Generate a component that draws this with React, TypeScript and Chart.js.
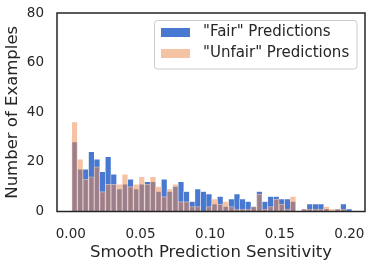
import React, { useEffect, useRef } from "react";
import { Chart, registerables } from "chart.js";

Chart.register(...registerables);

// ---- data ----
const binStart = 0.0007;
const binWidth = 0.00402;
const fairCounts = [
  28, 17, 17, 24, 21, 16, 22, 15, 9, 11,
  13, 9, 11, 12, 12, 8, 13, 8, 10, 12,
  8, 4, 9, 8, 7, 3, 6, 2, 5, 7,
  5, 4, 2, 8, 4, 6, 6, 5, 5, 4,
  0, 1, 3, 3, 3, 1, 0, 1, 3, 1,
];
const unfairCounts = [
  36, 21, 13, 14, 18, 8, 11, 11, 11, 15,
  10, 11, 14, 11, 14, 10, 6, 9, 11, 4,
  4, 2, 2, 0, 2, 5, 3, 4, 2, 1,
  1, 1, 2, 7, 1, 2, 5, 3, 1, 6,
  0, 1, 1, 1, 1, 2, 1, 1, 1, 0,
];
const xTickValues = [0, 0.05, 0.1, 0.15, 0.2];
const yTickValues = [0, 20, 40, 60, 80];
const seriesLabels = ['"Fair" Predictions', '"Unfair" Predictions'];
const xTitle = "Smooth Prediction Sensitivity";
const yTitle = "Number of Examples";

const FONT = "'DejaVu Sans', sans-serif";
const TEXT = "#262626";
const BLUE = "rgb(72,120,208)";
const ORANGE_A = "rgba(238,133,74,0.5)";

const framePlugin = {
  id: "frame",
  afterDraw(chart: any) {
    const { ctx, chartArea: a } = chart;
    ctx.save();
    ctx.strokeStyle = TEXT;
    ctx.lineWidth = 1.5;
    ctx.strokeRect(a.left, a.top, a.right - a.left, a.bottom - a.top);
    ctx.restore();
  },
};

const legendPlugin = {
  id: "innerLegend",
  afterDraw(chart: any) {
    const { ctx, chartArea: a } = chart;
    const right = a.right - 8;
    const left = right - 202.5;
    const top = a.top + 7.5;
    const h = 48.5;
    ctx.save();
    ctx.beginPath();
    const r = 3;
    ctx.moveTo(left + r, top);
    ctx.lineTo(right - r, top);
    ctx.quadraticCurveTo(right, top, right, top + r);
    ctx.lineTo(right, top + h - r);
    ctx.quadraticCurveTo(right, top + h, right - r, top + h);
    ctx.lineTo(left + r, top + h);
    ctx.quadraticCurveTo(left, top + h, left, top + h - r);
    ctx.lineTo(left, top + r);
    ctx.quadraticCurveTo(left, top, left + r, top);
    ctx.closePath();
    ctx.fillStyle = "rgba(255,255,255,0.8)";
    ctx.fill();
    ctx.strokeStyle = "#cccccc";
    ctx.lineWidth = 1;
    ctx.stroke();
    const colors = [BLUE, ORANGE_A];
    const rows = [top + 12, top + 33];
    ctx.font = `15px ${FONT}`;
    ctx.textBaseline = "middle";
    ctx.textAlign = "left";
    seriesLabels.forEach((lab, i) => {
      ctx.fillStyle = colors[i];
      ctx.fillRect(left + 6.5, rows[i] - 4.5, 29, 9);
      ctx.fillStyle = TEXT;
      ctx.fillText(lab, left + 48.5, rows[i]);
    });
    ctx.restore();
  },
};

export default function App() {
  const ref = useRef<HTMLCanvasElement | null>(null);
  useEffect(() => {
    document.body.style.margin = "0";
    const centers = fairCounts.map((_, i) => binStart + (i + 0.5) * binWidth);
    const chart = new Chart(ref.current as HTMLCanvasElement, {
      type: "bar",
      data: {
        datasets: [
          {
            label: seriesLabels[0],
            data: centers.map((x, i) => ({ x, y: fairCounts[i] })),
            backgroundColor: BLUE,
            borderColor: "rgba(255,255,255,1)",
            borderWidth: 0.5,
            order: 1,
          },
          {
            label: seriesLabels[1],
            data: centers.map((x, i) => ({ x, y: unfairCounts[i] })),
            backgroundColor: ORANGE_A,
            borderColor: "rgba(255,255,255,0.5)",
            borderWidth: 0.5,
            order: 0,
          },
        ],
      },
      options: {
        animation: false,
        responsive: true,
        maintainAspectRatio: false,
        layout: { padding: { left: 0, right: 9, top: 13, bottom: 0 } },
        datasets: {
          bar: {
            grouped: false,
            barPercentage: 1,
            categoryPercentage: 1,
          },
        } as any,
        plugins: {
          legend: { display: false },
          tooltip: { enabled: false },
        },
        scales: {
          x: {
            type: "linear",
            offset: false,
            min: -0.0099,
            max: 0.2112,
            grid: { display: false, drawTicks: false },
            border: { display: false },
            afterBuildTicks: (s: any) => {
              s.ticks = xTickValues.map((v) => ({ value: v }));
            },
            afterFit: (s: any) => {
              s.height = 53.5;
              s.paddingLeft = 0;
              s.paddingRight = 0;
            },
            ticks: {
              color: TEXT,
              font: { family: FONT, size: 13.5 },
              padding: 15,
              maxRotation: 0,
              callback: (v: any) => Number(v).toFixed(2),
            },
            title: {
              display: true,
              text: xTitle,
              color: TEXT,
              font: { family: FONT, size: 16.5 },
              padding: { top: 0, bottom: 2 },
            },
          },
          y: {
            min: 0,
            max: 80,
            grid: { display: false, drawTicks: false },
            border: { display: false },
            afterBuildTicks: (s: any) => {
              s.ticks = yTickValues.map((v) => ({ value: v }));
            },
            afterFit: (s: any) => {
              s.width = 57;
              s.paddingTop = 0;
              s.paddingBottom = 0;
            },
            ticks: {
              color: TEXT,
              font: { family: FONT, size: 13.5 },
              padding: 13,
            },
            title: {
              display: true,
              text: yTitle,
              color: TEXT,
              font: { family: FONT, size: 16.5 },
              padding: { top: 3, bottom: 0 },
            },
          },
        },
      },
      plugins: [framePlugin, legendPlugin],
    });
    return () => chart.destroy();
  }, []);
  return (
    <div style={{ width: 374, height: 265, position: "relative" }}>
      <canvas ref={ref} />
    </div>
  );
}
